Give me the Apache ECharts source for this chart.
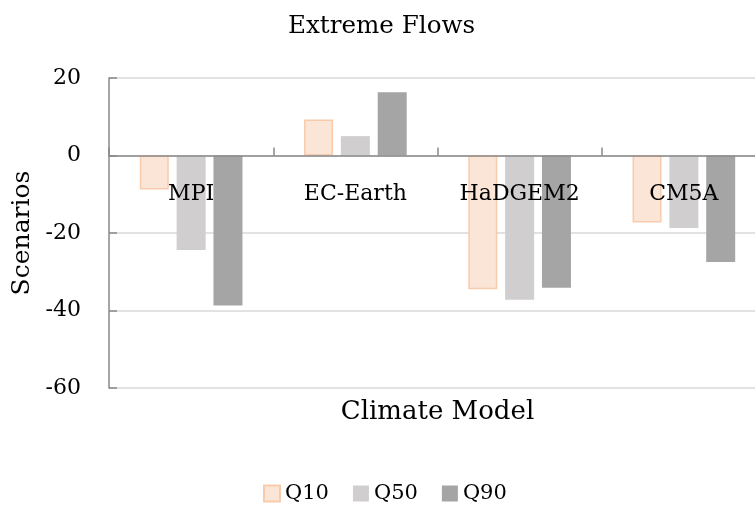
<!DOCTYPE html>
<html>
<head>
<meta charset="utf-8">
<script src="https://cdn.jsdelivr.net/npm/echarts@6/dist/echarts.min.js"></script>
<style>html,body{margin:0;padding:0;background:#fff;}#c{width:755px;height:506px;}</style>
</head>
<body>
<div id="c"></div>
<script>
const categories = ['MPI', 'EC-Earth', 'HaDGEM2', 'CM5A'];
const seriesNames = ['Q10', 'Q50', 'Q90'];
const q10 = [-8.8, 9.3, -34.5, -17.3];
const q50 = [-24.4, 5.0, -37.2, -18.7];
const q90 = [-38.7, 16.3, -34.1, -27.5];
const yTicks = [-60, -40, -20, 0, 20];

const FONT = 'DejaVu Serif';
const chart = echarts.init(document.getElementById('c'), null, {renderer: 'canvas'});
const axisGrey = '#898989';
chart.setOption({
  animation: false,
  backgroundColor: '#ffffff',
  title: {
    text: 'Extreme Flows',
    left: 283, top: 9,
    textStyle: {fontFamily: FONT, fontSize: 24.6, fontWeight: 'normal', color: '#000'}
  },
  legend: {
    data: seriesNames,
    left: 258, top: 478,
    itemWidth: 16, itemHeight: 16, itemGap: 24,
    icon: 'rect',
    textStyle: {fontFamily: FONT, fontSize: 21, color: '#000'}
  },
  grid: {left: 109, top: 78, width: 657, height: 310, containLabel: false, outerBoundsMode: 'none'},
  xAxis: {
    type: 'category',
    z: 5,
    data: categories,
    name: 'Climate Model',
    nameLocation: 'middle',
    nameGap: 11,
    nameTextStyle: {fontFamily: FONT, fontSize: 26, color: '#000', verticalAlign: 'top'},
    axisLine: {onZero: true, lineStyle: {color: axisGrey, width: 1.5}},
    axisTick: {show: true, inside: true, length: 8, lineStyle: {color: axisGrey, width: 1.5}},
    axisLabel: {fontFamily: FONT, fontSize: 22, color: '#000', margin: -205},
    splitLine: {show: false}
  },
  yAxis: {
    type: 'value',
    min: yTicks[0], max: yTicks[yTicks.length - 1], interval: 20,
    name: 'Scenarios',
    nameLocation: 'middle',
    nameGap: 72,
    nameRotate: 90,
    nameTextStyle: {fontFamily: FONT, fontSize: 25, color: '#000'},
    axisLine: {show: true, lineStyle: {color: axisGrey, width: 1.5}},
    axisTick: {show: true, inside: true, length: 8, lineStyle: {color: axisGrey, width: 1.5}},
    axisLabel: {fontFamily: FONT, fontSize: 22, color: '#000', margin: 28},
    splitLine: {show: true, lineStyle: {color: '#d9d9d9', width: 1.5}}
  },
  series: [
    {name: seriesNames[0], type: 'bar', data: q10, barWidth: 29, barGap: '27%',
     itemStyle: {color: '#fbe5d6', borderColor: '#f8cbad', borderWidth: 1.5}},
    {name: seriesNames[1], type: 'bar', data: q50, barWidth: 29, barGap: '27%',
     itemStyle: {color: '#d0cece'}},
    {name: seriesNames[2], type: 'bar', data: q90, barWidth: 29, barGap: '27%',
     itemStyle: {color: '#a5a5a5'}}
  ]
});
</script>
</body>
</html>
